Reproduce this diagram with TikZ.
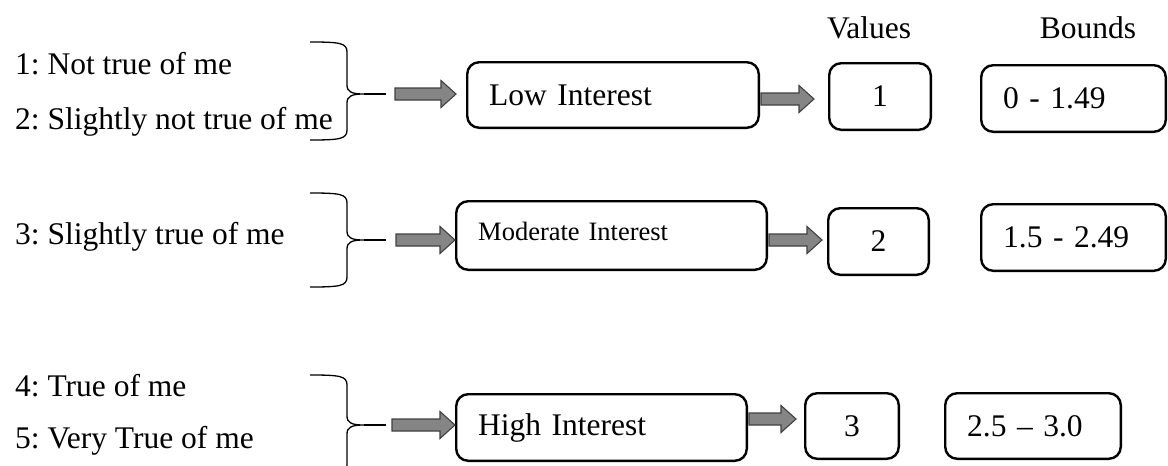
\documentclass[tikz,border=0pt]{standalone}
\usepackage{fontspec}
\setmainfont{Liberation Serif}
\usepackage{tikz}
\usetikzlibrary{calc}
\frenchspacing

\tikzset{
  lbl/.style={anchor=base west, inner sep=0pt, font=\fontsize{31.5}{36}\selectfont},
  hdr/.style={anchor=base, inner sep=0pt, font=\fontsize{31.5}{36}\selectfont},
  rbox/.style={draw, line width=2.4pt, rounded corners=12pt, inner ysep=0pt, font=\fontsize{31.5}{36}\selectfont},
  lbox/.style={rbox, inner xsep=22pt, align=left},
  brace/.style={line width=1.3pt},
  fatarr/.style={fill=black!48, draw=black!75, line width=1.1pt, line join=miter},
}

\begin{document}
\begin{tikzpicture}[x=1pt,y=-1pt]
    \useasboundingbox (0,0) rectangle (1168,466);

    % --- helper macros: curly brace (name, top, tip, bottom) and fat arrow
    \def\rbrace#1#2#3#4{\draw[brace] (310,#2) .. controls (340,#2) and (347,#2+1) .. (347,#2+10) -- (347,#3-9) .. controls (347,#3-2) and (352,#3) .. (364,#3) .. controls (352,#3) and (347,#3+2) .. (347,#3+9) -- (347,#4-10) .. controls (347,#4-1) and (340,#4) .. (310,#4); \draw[brace] (364,#3) -- (386,#3); \coordinate (#1) at (386,#3);}
    \def\fatarrow#1#2#3#4{\path[fatarr] let \p1=(#1), \p2=(#2), \n1={\x1+#3}, \n2={\x2-#4}, \n3={\x2-#4-15} in (\n1,\y1+6) -- (\n3,\y1+6) -- (\n3,\y1+13.5) -- (\n2,\y1) -- (\n3,\y1-13.5) -- (\n3,\y1-6) -- (\n1,\y1-6) -- cycle;}

    % --- column heads
    \node[hdr] (valhd) at (869,38) {Values};
    \node[hdr] (bndhd) at (1088,38) {Bounds};

    % --- answer scale
    \foreach \yy/\txt [count=\i] in {74/1: Not true of me, 129/2: Slightly not true of me, 244/3: Slightly true of me, 396/4: True of me, 448/5: Very True of me}{\node[lbl] (ans\i) at (15,\yy) {\txt};}

    % --- braces
    \rbrace{br1}{42}{94}{140}
    \rbrace{br2}{193}{240}{287}
    \rbrace{br3}{375}{425}{475}

    % --- interest boxes
    \node[lbox, text width=247.6pt, minimum height=65.6pt] (low) at (613,95) {Low Interest};
    \node[lbox, text width=266.6pt, minimum height=68.6pt, text depth=9pt, font=\fontsize{26.5}{30}\selectfont] (mod) at (611.5,235.5) {Moderate Interest};
    \node[lbox, text width=246.6pt, minimum height=66.6pt] (high) at (601.5,427.5) {High Interest};

    % --- values
    \node[rbox, minimum width=101.6pt, minimum height=66.6pt] (v1) at (880,96.5) {1};
    \node[rbox, minimum width=100.6pt, minimum height=66.6pt] (v2) at (878.5,241.5) {2};
    \node[rbox, minimum width=93.6pt, minimum height=65.6pt] (v3) at (852,426) {3};

    % --- bounds
    \node[lbox, text width=140.6pt, minimum height=66.6pt] (b1) at (1073.5,98.5) {0 - 1.49};
    \node[lbox, text width=140.6pt, minimum height=66.6pt] (b2) at (1073.5,237.5) {1.5 - 2.49};
    \node[lbox, text width=131.6pt, minimum height=65.6pt] (b3) at (1033,426) {2.5 -- 3.0};

    % --- arrows
    \fatarrow{br1}{low.west}{9}{10}
    \fatarrow{br2}{mod.west}{10}{0}
    \fatarrow{br3}{high.west}{6}{0}
    \fatarrow{$(low.east)+(0,4)$}{v1.west}{1}{14}
    \fatarrow{$(mod.east)+(0,4.5)$}{v2.west}{1}{5}
    \fatarrow{$(high.east)+(0,-8.5)$}{v3.west}{1}{8}
\end{tikzpicture}
\end{document}
